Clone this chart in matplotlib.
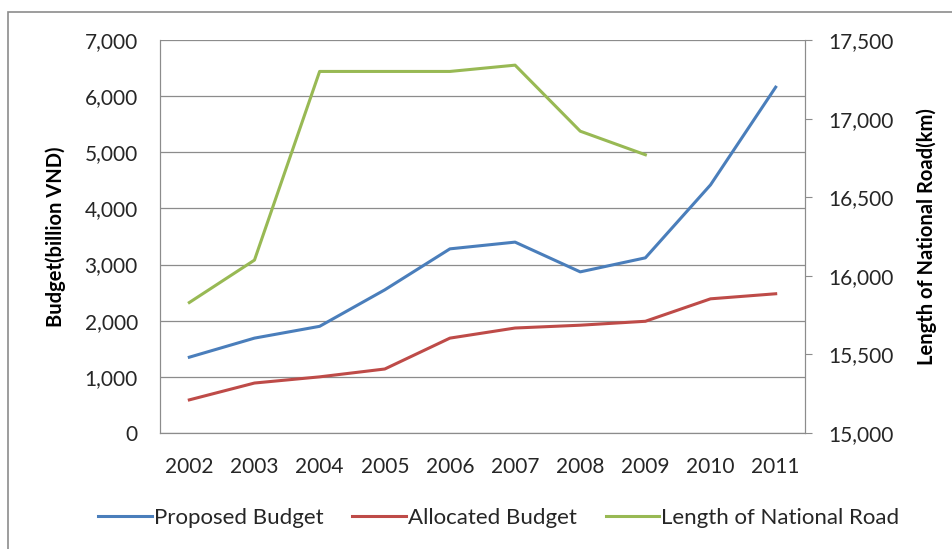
import matplotlib.pyplot as plt
from matplotlib.patches import Rectangle
from matplotlib.ticker import FuncFormatter

plt.rcParams['font.family'] = ['Lato', 'DejaVu Sans']

years = ["2002", "2003", "2004", "2005", "2006", "2007", "2008", "2009", "2010", "2011"]
proposed = [1350, 1690, 1900, 2550, 3280, 3400, 2870, 3120, 4420, 6160]
allocated = [590, 890, 1000, 1140, 1690, 1870, 1920, 1990, 2390, 2480]
road_years = years[:8]
road_length = [15830, 16100, 17300, 17300, 17300, 17340, 16920, 16770]

fig = plt.figure(figsize=(9.52, 5.49), dpi=100)
# outer chart frame
fig.patches.append(Rectangle((8 / 952, -0.1), 1.1, 1 - 12 / 549 + 0.1, transform=fig.transFigure,
                             fill=False, edgecolor='#8c8c8c', linewidth=1.2))

ax = fig.add_axes([160 / 952, 1 - 433 / 549, 645 / 952, 393 / 549])
ax2 = ax.twinx()

x = list(range(len(years)))
ax.plot(x, proposed, color='#4a7ebb', linewidth=2.2, label='Proposed Budget')
ax.plot(x, allocated, color='#be4b48', linewidth=2.2, label='Allocated Budget')
ax2.plot(x[:len(road_years)], road_length, color='#98b954', linewidth=2.2, label='Length of National Road')

ax.set_xlim(-0.45, len(years) - 0.55)
ax.set_ylim(0, 7000)
ax.set_yticks(range(0, 7001, 1000))
ax2.set_ylim(15000, 17500)
ax2.set_yticks(range(15000, 17501, 500))
fmt = FuncFormatter(lambda v, p: f"{int(v):,}")
ax.yaxis.set_major_formatter(fmt)
ax2.yaxis.set_major_formatter(fmt)
ax.set_xticks(x)
ax.set_xticklabels(years)

ax.grid(axis='y', color='#8c8c8c', linewidth=0.9)
ax.set_axisbelow(True)
for a in (ax, ax2):
    a.spines['top'].set_visible(False)
    a.spines['left'].set_color('#8c8c8c')
    a.spines['right'].set_color('#8c8c8c')
    a.spines['bottom'].set_color('#8c8c8c')
ax.tick_params(axis='y', length=0, pad=16, labelsize=15, colors='#262626')
ax.tick_params(axis='x', length=0, pad=17, labelsize=15, colors='#262626')
ax2.tick_params(axis='y', length=5, color='#8c8c8c', pad=12, labelsize=15, labelcolor='#262626')

ax.set_ylabel('Budget(billion VND)', fontsize=14.5, fontweight='bold')
ax2.set_ylabel('Length of National Road(km)', fontsize=14.5, fontweight='bold')
ax.yaxis.set_label_coords(-0.145, 0.5)
ax2.yaxis.set_label_coords(1.172, 0.5)

h1, l1 = ax.get_legend_handles_labels()
h2, l2 = ax2.get_legend_handles_labels()
fig.legend(h1 + h2, l1 + l2, loc='center', bbox_to_anchor=(0.524, 1 - 518 / 549), ncol=3,
           frameon=False, fontsize=16, handlelength=2.4, handletextpad=0.1, columnspacing=1.3,
           labelcolor='#262626')

fig.savefig('out.png', dpi=100)
